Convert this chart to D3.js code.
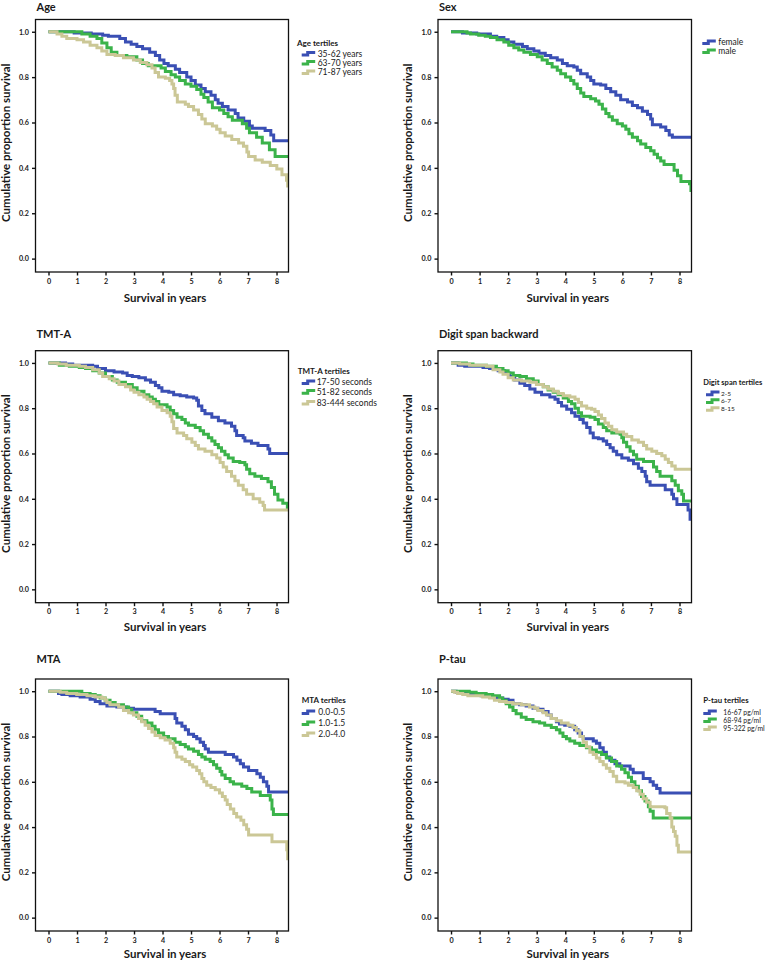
<!DOCTYPE html>
<html>
<head>
<meta charset="utf-8">
<script src="https://cdn.jsdelivr.net/npm/d3@7"></script>
<style>
  html, body { margin: 0; padding: 0; background: #fff; }
  svg { display: block; }
  text { font-family: Lato, "Open Sans", "DejaVu Sans", sans-serif; fill: #1a1a1a; }
</style>
</head>
<body>
<svg id="chart" width="778" height="961"></svg>
<script>
// ---------------- DATA ----------------
const xTicks = [0, 1, 2, 3, 4, 5, 6, 7, 8];
const yTicks = [0.0, 0.2, 0.4, 0.6, 0.8, 1.0];
const panelTitles = ["Age", "Sex", "TMT-A", "Digit span backward", "MTA", "P-tau"];
const legendTitles = ["Age tertiles", "", "TMT-A tertiles", "Digit span tertiles", "MTA tertiles", "P-tau tertiles"];
const xAxisTitle = "Survival in years";
const yAxisTitle = "Cumulative proportion survival";

const ageLabels = ["35-62 years", "63-70 years", "71-87 years"];
const sexLabels = ["female", "male"];
const tmtLabels = ["17-50 seconds", "51-82 seconds", "83-444 seconds"];
const digitLabels = ["2-5", "6-7", "8-15"];
const mtaLabels = ["0.0-0.5", "1.0-1.5", "2.0-4.0"];
const ptauLabels = ["16-67 pg/ml", "68-94 pg/ml", "95-322 pg/ml"];

// [time in years, survival after the drop]
const ageYoung = [[0,1],[0.9,0.995],[1.5,0.99],[1.9,0.985],[2.1,0.98],[2.5,0.97],[2.7,0.955],[2.9,0.945],[3.1,0.935],[3.3,0.925],[3.55,0.91],[3.75,0.895],[3.9,0.875],[4.05,0.86],[4.2,0.85],[4.45,0.835],[4.6,0.82],[4.85,0.80],[5.0,0.785],[5.15,0.765],[5.35,0.75],[5.5,0.735],[5.7,0.72],[5.85,0.70],[5.95,0.685],[6.1,0.67],[6.3,0.655],[6.55,0.64],[6.65,0.62],[6.85,0.605],[7.05,0.585],[7.15,0.575],[7.6,0.565],[7.8,0.545],[7.9,0.52]];
const ageMid = [[0,1],[1.17,0.99],[1.46,0.98],[1.7,0.97],[1.87,0.95],[2.05,0.93],[2.2,0.91],[2.4,0.895],[2.75,0.89],[3.1,0.875],[3.3,0.86],[3.5,0.85],[3.95,0.84],[4.1,0.825],[4.3,0.81],[4.45,0.80],[4.6,0.785],[4.8,0.77],[5.0,0.76],[5.2,0.745],[5.35,0.725],[5.45,0.71],[5.6,0.69],[5.75,0.665],[6.0,0.655],[6.15,0.64],[6.3,0.625],[6.45,0.61],[6.8,0.595],[6.95,0.575],[7.05,0.555],[7.3,0.535],[7.5,0.51],[7.75,0.48],[7.95,0.45]];
const ageOld = [[0,1],[0.3,0.99],[0.47,0.98],[0.64,0.97],[1.0,0.965],[1.23,0.955],[1.46,0.94],[1.7,0.93],[1.87,0.915],[2.05,0.90],[2.34,0.895],[2.63,0.885],[2.98,0.875],[3.22,0.865],[3.45,0.855],[3.63,0.84],[3.74,0.82],[3.86,0.80],[4.1,0.795],[4.25,0.785],[4.33,0.77],[4.39,0.75],[4.44,0.72],[4.52,0.69],[4.8,0.68],[4.91,0.67],[5.09,0.655],[5.26,0.635],[5.38,0.615],[5.5,0.595],[5.75,0.585],[5.9,0.57],[6.02,0.555],[6.2,0.54],[6.43,0.525],[6.67,0.51],[6.84,0.495],[6.96,0.47],[7.02,0.45],[7.25,0.435],[7.5,0.425],[7.78,0.41],[8.01,0.395],[8.19,0.37],[8.35,0.345],[8.39,0.32]];

const sexFemale = [[0,1],[0.4,0.995],[0.9,0.99],[1.38,0.98],[1.6,0.975],[1.85,0.965],[2.0,0.955],[2.2,0.945],[2.5,0.935],[2.67,0.925],[2.9,0.915],[3.08,0.905],[3.3,0.895],[3.49,0.885],[3.72,0.875],[3.9,0.86],[4.07,0.85],[4.3,0.845],[4.42,0.83],[4.54,0.815],[4.77,0.80],[4.89,0.785],[5.0,0.77],[5.24,0.765],[5.42,0.75],[5.59,0.735],[5.77,0.72],[5.94,0.70],[6.18,0.69],[6.35,0.675],[6.53,0.665],[6.7,0.65],[6.88,0.635],[6.99,0.615],[7.05,0.59],[7.34,0.58],[7.52,0.565],[7.64,0.545],[7.75,0.535]];
const sexMale = [[0,1],[0.56,0.995],[0.68,0.99],[0.97,0.985],[1.2,0.98],[1.38,0.975],[1.61,0.965],[1.85,0.955],[2.02,0.94],[2.2,0.93],[2.37,0.92],[2.55,0.91],[2.78,0.90],[3.02,0.89],[3.19,0.875],[3.37,0.86],[3.54,0.845],[3.72,0.83],[3.84,0.815],[4.01,0.80],[4.19,0.785],[4.3,0.77],[4.42,0.75],[4.54,0.73],[4.65,0.715],[4.89,0.705],[5.06,0.695],[5.18,0.68],[5.3,0.66],[5.42,0.64],[5.53,0.625],[5.65,0.61],[5.82,0.595],[6.0,0.585],[6.12,0.57],[6.23,0.55],[6.35,0.535],[6.53,0.52],[6.64,0.505],[6.82,0.49],[6.99,0.475],[7.11,0.46],[7.23,0.445],[7.34,0.43],[7.46,0.415],[7.81,0.39],[7.93,0.365],[8.05,0.34],[8.35,0.33],[8.4,0.30]];

const tmtFast = [[0,1],[0.6,0.995],[0.85,0.99],[1.55,0.985],[1.72,0.975],[2.0,0.965],[2.3,0.96],[2.6,0.955],[2.76,0.945],[2.94,0.94],[3.17,0.935],[3.4,0.925],[3.58,0.915],[3.75,0.90],[3.87,0.89],[3.98,0.875],[4.22,0.87],[4.39,0.86],[4.62,0.855],[4.85,0.85],[5.09,0.845],[5.2,0.835],[5.26,0.81],[5.38,0.79],[5.49,0.775],[5.73,0.76],[5.96,0.745],[6.19,0.735],[6.42,0.72],[6.54,0.70],[6.6,0.68],[6.83,0.67],[6.89,0.655],[7.12,0.645],[7.35,0.635],[7.7,0.62],[7.76,0.60]];
const tmtMid = [[0,1],[0.38,0.99],[0.73,0.985],[1.08,0.98],[1.3,0.975],[1.55,0.965],[1.78,0.955],[2.0,0.94],[2.24,0.925],[2.41,0.915],[2.7,0.905],[2.94,0.89],[3.11,0.875],[3.35,0.86],[3.52,0.85],[3.64,0.84],[3.75,0.83],[3.87,0.815],[4.16,0.805],[4.27,0.79],[4.39,0.775],[4.51,0.76],[4.68,0.75],[4.8,0.735],[4.91,0.725],[5.15,0.715],[5.32,0.70],[5.44,0.685],[5.61,0.67],[5.73,0.655],[5.84,0.64],[5.96,0.625],[6.07,0.61],[6.19,0.595],[6.31,0.58],[6.48,0.565],[6.71,0.56],[6.89,0.55],[6.95,0.53],[7.06,0.51],[7.24,0.50],[7.47,0.49],[7.7,0.475],[7.82,0.45],[7.93,0.42],[8.05,0.395],[8.22,0.38],[8.38,0.36]];
const tmtSlow = [[0,1],[0.33,0.995],[0.62,0.99],[1.08,0.985],[1.3,0.98],[1.55,0.97],[1.78,0.955],[1.9,0.94],[2.13,0.93],[2.3,0.92],[2.47,0.905],[2.7,0.895],[2.88,0.88],[3.0,0.87],[3.17,0.86],[3.35,0.85],[3.46,0.84],[3.58,0.83],[3.69,0.82],[3.81,0.805],[3.98,0.79],[4.16,0.78],[4.27,0.765],[4.33,0.74],[4.39,0.71],[4.51,0.69],[4.74,0.68],[4.85,0.665],[5.03,0.65],[5.15,0.635],[5.26,0.62],[5.49,0.61],[5.73,0.595],[5.9,0.58],[6.02,0.56],[6.13,0.54],[6.25,0.52],[6.42,0.50],[6.54,0.48],[6.66,0.46],[6.83,0.44],[6.95,0.42],[7.18,0.40],[7.41,0.385],[7.53,0.37],[7.58,0.35]];

const digitLow = [[0,1],[0.25,0.99],[0.48,0.985],[1.12,0.98],[1.35,0.975],[1.65,0.965],[1.88,0.955],[2.06,0.94],[2.23,0.925],[2.41,0.91],[2.58,0.90],[2.76,0.885],[2.94,0.87],[3.17,0.86],[3.46,0.85],[3.64,0.84],[3.75,0.825],[3.87,0.81],[4.05,0.795],[4.22,0.78],[4.34,0.765],[4.51,0.75],[4.63,0.735],[4.75,0.715],[4.87,0.69],[4.98,0.67],[5.16,0.665],[5.33,0.655],[5.45,0.64],[5.57,0.625],[5.68,0.61],[5.8,0.595],[5.98,0.58],[6.21,0.57],[6.39,0.555],[6.56,0.535],[6.68,0.52],[6.8,0.50],[6.85,0.475],[6.97,0.46],[7.5,0.44],[7.73,0.42],[7.79,0.40],[7.91,0.375],[8.3,0.35],[8.37,0.31]];
const digitMid = [[0,1],[0.54,0.995],[0.77,0.99],[1.24,0.985],[1.59,0.975],[1.82,0.965],[2.0,0.955],[2.18,0.945],[2.41,0.94],[2.64,0.93],[2.88,0.92],[3.05,0.905],[3.23,0.895],[3.4,0.88],[3.58,0.87],[3.75,0.86],[3.93,0.845],[4.11,0.83],[4.22,0.82],[4.34,0.80],[4.46,0.78],[4.57,0.765],[4.87,0.76],[5.04,0.75],[5.16,0.73],[5.33,0.715],[5.45,0.70],[5.63,0.69],[5.92,0.685],[5.98,0.67],[6.04,0.65],[6.15,0.63],[6.27,0.61],[6.39,0.595],[6.5,0.575],[6.74,0.565],[7.09,0.54],[7.2,0.52],[7.32,0.50],[7.73,0.48],[7.85,0.46],[7.96,0.435],[8.08,0.42],[8.14,0.39]];
const digitHigh = [[0,1],[0.3,0.995],[0.65,0.99],[1.24,0.985],[1.47,0.97],[1.71,0.96],[1.82,0.95],[2.0,0.935],[2.18,0.925],[2.47,0.92],[2.76,0.915],[2.99,0.905],[3.23,0.895],[3.4,0.885],[3.58,0.875],[3.75,0.865],[3.93,0.855],[4.16,0.85],[4.34,0.84],[4.46,0.825],[4.57,0.81],[4.75,0.80],[4.92,0.795],[5.04,0.785],[5.16,0.77],[5.27,0.755],[5.39,0.735],[5.51,0.72],[5.63,0.705],[5.8,0.695],[6.04,0.685],[6.15,0.675],[6.33,0.66],[6.56,0.65],[6.74,0.635],[6.85,0.62],[7.03,0.61],[7.2,0.60],[7.38,0.59],[7.5,0.575],[7.61,0.56],[7.73,0.545],[7.85,0.53]];

const mtaLow = [[0,1],[0.35,0.99],[0.47,0.985],[0.76,0.98],[1.11,0.975],[1.46,0.965],[1.64,0.955],[1.81,0.945],[2.05,0.935],[2.4,0.93],[2.75,0.925],[2.98,0.92],[3.74,0.91],[3.92,0.90],[4.44,0.88],[4.5,0.86],[4.68,0.845],[4.8,0.83],[4.91,0.81],[5.09,0.80],[5.2,0.79],[5.32,0.775],[5.44,0.76],[5.5,0.745],[5.61,0.73],[6.2,0.72],[6.49,0.71],[6.61,0.695],[6.73,0.68],[6.84,0.665],[7.02,0.65],[7.31,0.635],[7.43,0.62],[7.54,0.60],[7.66,0.58],[7.72,0.555]];
const mtaMid = [[0,1],[1.17,0.99],[1.46,0.985],[1.64,0.98],[1.81,0.97],[1.99,0.96],[2.16,0.95],[2.34,0.94],[2.63,0.93],[2.81,0.92],[2.92,0.905],[3.1,0.89],[3.27,0.87],[3.45,0.86],[3.63,0.845],[3.74,0.83],[3.86,0.815],[4.04,0.80],[4.21,0.79],[4.44,0.775],[4.62,0.765],[4.8,0.755],[4.91,0.745],[5.09,0.735],[5.26,0.72],[5.38,0.71],[5.5,0.70],[5.67,0.69],[5.79,0.675],[5.9,0.66],[6.02,0.645],[6.08,0.63],[6.2,0.615],[6.37,0.60],[6.49,0.59],[6.78,0.58],[6.96,0.57],[7.13,0.555],[7.43,0.54],[7.78,0.52],[7.84,0.48],[7.89,0.455]];
const mtaHigh = [[0,1],[0.41,0.995],[0.64,0.99],[0.99,0.985],[1.35,0.98],[1.64,0.975],[1.87,0.97],[1.99,0.96],[2.05,0.95],[2.16,0.94],[2.46,0.93],[2.63,0.915],[2.81,0.905],[2.98,0.895],[3.16,0.88],[3.27,0.865],[3.39,0.85],[3.51,0.835],[3.63,0.82],[3.74,0.805],[3.92,0.795],[4.09,0.785],[4.27,0.77],[4.39,0.75],[4.44,0.73],[4.5,0.71],[4.68,0.70],[4.8,0.69],[4.95,0.675],[5.06,0.665],[5.2,0.65],[5.3,0.635],[5.38,0.615],[5.45,0.60],[5.55,0.585],[5.7,0.575],[5.85,0.565],[6.0,0.55],[6.1,0.535],[6.2,0.52],[6.27,0.50],[6.38,0.48],[6.5,0.46],[6.6,0.445],[6.75,0.43],[6.85,0.41],[6.95,0.39],[7.02,0.365],[7.84,0.335],[8.36,0.30],[8.39,0.26]];

const ptauLow = [[0,1],[0.18,0.995],[0.41,0.99],[0.76,0.985],[1.05,0.98],[1.35,0.975],[1.58,0.97],[1.81,0.965],[2.0,0.96],[2.17,0.945],[2.4,0.94],[2.63,0.935],[2.87,0.925],[3.04,0.92],[3.22,0.91],[3.4,0.895],[3.51,0.88],[3.69,0.865],[3.8,0.855],[3.98,0.85],[4.16,0.845],[4.33,0.83],[4.45,0.815],[4.57,0.80],[4.63,0.79],[4.98,0.78],[5.09,0.77],[5.21,0.75],[5.33,0.73],[5.44,0.71],[5.56,0.695],[5.74,0.68],[5.91,0.67],[6.27,0.655],[6.38,0.64],[6.73,0.615],[6.97,0.60],[7.08,0.585],[7.2,0.57],[7.32,0.55]];
const ptauMid = [[0,1],[0.64,0.995],[0.88,0.99],[1.23,0.985],[1.46,0.98],[1.7,0.97],[1.81,0.96],[1.93,0.945],[2.05,0.93],[2.17,0.915],[2.28,0.90],[2.46,0.885],[2.63,0.875],[2.87,0.865],[3.1,0.86],[3.28,0.85],[3.51,0.84],[3.69,0.83],[3.81,0.815],[3.92,0.80],[4.04,0.79],[4.16,0.78],[4.33,0.77],[4.51,0.76],[4.74,0.75],[4.92,0.74],[5.09,0.73],[5.27,0.72],[5.44,0.705],[5.62,0.69],[5.8,0.67],[5.97,0.655],[6.09,0.64],[6.21,0.62],[6.32,0.60],[6.44,0.58],[6.56,0.56],[6.67,0.535],[6.79,0.515],[6.91,0.49],[6.97,0.47],[7.08,0.44]];
const ptauHigh = [[0,1],[0.12,0.995],[0.23,0.99],[0.41,0.985],[0.59,0.98],[1.11,0.975],[1.35,0.97],[1.52,0.96],[1.7,0.955],[1.93,0.95],[2.17,0.945],[2.46,0.94],[2.75,0.93],[2.93,0.925],[3.04,0.915],[3.22,0.905],[3.34,0.895],[3.51,0.88],[3.69,0.87],[3.86,0.86],[4.1,0.85],[4.27,0.84],[4.39,0.825],[4.51,0.80],[4.63,0.775],[4.74,0.755],[4.86,0.73],[4.98,0.72],[5.09,0.705],[5.21,0.69],[5.33,0.675],[5.44,0.66],[5.56,0.645],[5.68,0.625],[5.8,0.60],[6.09,0.595],[6.21,0.585],[6.38,0.575],[6.5,0.56],[6.62,0.545],[6.73,0.525],[6.85,0.51],[6.97,0.49],[7.49,0.485],[7.55,0.46],[7.67,0.44],[7.73,0.40],[7.79,0.38],[7.85,0.36],[7.91,0.32],[7.96,0.29]];

// ---------------- STYLE / LAYOUT ----------------
const groupColors = ["#3a4fb4", "#3bb34a", "#cbc796"];
const xDomain = [-0.456, 8.42];
const yDomain = [-0.059, 1.054];
const colLeft = [35.5, 438], colRight = [288.5, 691.5];
const rowTop = [19.5, 350.7, 679], rowBottom = [272, 602.7, 931];
const titleBase = [11, 338, 663];
const xTitleOffset = [30, 28, 27];

const panelSeries = [
  [ageYoung, ageMid, ageOld],
  [sexFemale, sexMale],
  [tmtFast, tmtMid, tmtSlow],
  [digitLow, digitMid, digitHigh],
  [mtaLow, mtaMid, mtaHigh],
  [ptauLow, ptauMid, ptauHigh]
];
const panelLabels = [ageLabels, sexLabels, tmtLabels, digitLabels, mtaLabels, ptauLabels];
const legendLayout = [
  {tx: 297,   ty: 45.5,  items: [56.5, 65.6, 75],   sx: 301.7, lx: 317.7, fs: 8.5, tfs: 8},
  {tx: 0,     ty: 0,     items: [45, 54],           sx: 702.3, lx: 718.3, fs: 8.5, tfs: 8},
  {tx: 297.7, ty: 374,   items: [385, 394.7, 405.5], sx: 301.7, lx: 316.7, fs: 8.5, tfs: 8},
  {tx: 703.3, ty: 385,   items: [395.5, 403.3, 411.1], sx: 706, lx: 721, fs: 6.5, tfs: 7.5},
  {tx: 301.7, ty: 703,   items: [715, 726, 737],    sx: 301.7, lx: 318.3, fs: 8.5, tfs: 8},
  {tx: 703.3, ty: 703.3, items: [714.5, 722.5, 730.5], sx: 703.3, lx: 723.3, fs: 6.8, tfs: 7.8}
];

// ---------------- DRAW ----------------
const svg = d3.select("#chart");
svg.append("rect").attr("width", 778).attr("height", 961).attr("fill", "#fff");

panelSeries.forEach((seriesList, p) => {
  const col = p % 2, row = Math.floor(p / 2);
  const L = colLeft[col], R = colRight[col], T = rowTop[row], B = rowBottom[row];
  const x = d3.scaleLinear().domain(xDomain).range([L, R]);
  const y = d3.scaleLinear().domain(yDomain).range([B, T]);
  const g = svg.append("g");

  const clipId = "clip" + p;
  svg.append("clipPath").attr("id", clipId)
    .append("rect").attr("x", L).attr("y", T).attr("width", R - L).attr("height", B - T);

  const line = d3.line().x(d => x(d[0])).y(d => y(d[1])).curve(d3.curveStepAfter);
  const curves = g.append("g").attr("clip-path", `url(#${clipId})`);
  seriesList.forEach((s, i) => {
    const pts = s.concat([[xDomain[1], s[s.length - 1][1]]]);
    curves.append("path").attr("d", line(pts))
      .attr("fill", "none").attr("stroke", groupColors[i])
      .attr("stroke-width", 3).attr("stroke-linejoin", "miter");
  });

  g.append("rect").attr("x", L).attr("y", T).attr("width", R - L).attr("height", B - T)
    .attr("fill", "none").attr("stroke", "#111").attr("stroke-width", 1.3);

  const yAxis = d3.axisLeft(y).tickValues(yTicks).tickFormat(d3.format(".1f")).tickSize(3.5).tickPadding(3);
  const ya = g.append("g").attr("transform", `translate(${L},0)`).call(yAxis);
  const xAxis = d3.axisBottom(x).tickValues(xTicks).tickFormat(d3.format("d")).tickSize(3.5).tickPadding(3);
  const xa = g.append("g").attr("transform", `translate(0,${B})`).call(xAxis);
  [ya, xa].forEach(a => {
    a.select(".domain").remove();
    a.selectAll(".tick line").attr("stroke", "#111").attr("stroke-width", 1.4);
    a.selectAll(".tick text").attr("fill", "#1a1a1a")
      .style("font-family", "Lato, 'Open Sans', sans-serif")
      .style("font-size", "7.2px").style("font-weight", "700");
  });

  g.append("text").attr("x", L + 1).attr("y", titleBase[row])
    .style("font-size", "11px").style("font-weight", "700").text(panelTitles[p]);
  g.append("text").attr("x", (L + R) / 2 + 3).attr("y", B + xTitleOffset[row])
    .attr("text-anchor", "middle").style("font-size", "11.5px").style("font-weight", "700")
    .text(xAxisTitle);
  g.append("text").attr("transform", `translate(${L - 26},${(T + B) / 2 - 3}) rotate(-90)`)
    .attr("text-anchor", "middle").style("font-size", "11.5px").style("font-weight", "700")
    .text(yAxisTitle);

  const lg = legendLayout[p];
  if (legendTitles[p]) {
    g.append("text").attr("x", lg.tx).attr("y", lg.ty)
      .style("font-size", lg.tfs + "px").style("font-weight", "700").text(legendTitles[p]);
  }
  panelLabels[p].forEach((lab, i) => {
    const b = lg.items[i];
    const yc = b - lg.fs * 0.33;
    g.append("path")
      .attr("d", `M${lg.sx},${yc + 1.3}H${lg.sx + 6}V${yc - 1.3}H${lg.sx + 13.5}`)
      .attr("fill", "none").attr("stroke", groupColors[i]).attr("stroke-width", 3);
    g.append("text").attr("x", lg.lx).attr("y", b)
      .style("font-size", lg.fs + "px").style("font-weight", "400").text(lab);
  });
});
</script>
</body>
</html>
